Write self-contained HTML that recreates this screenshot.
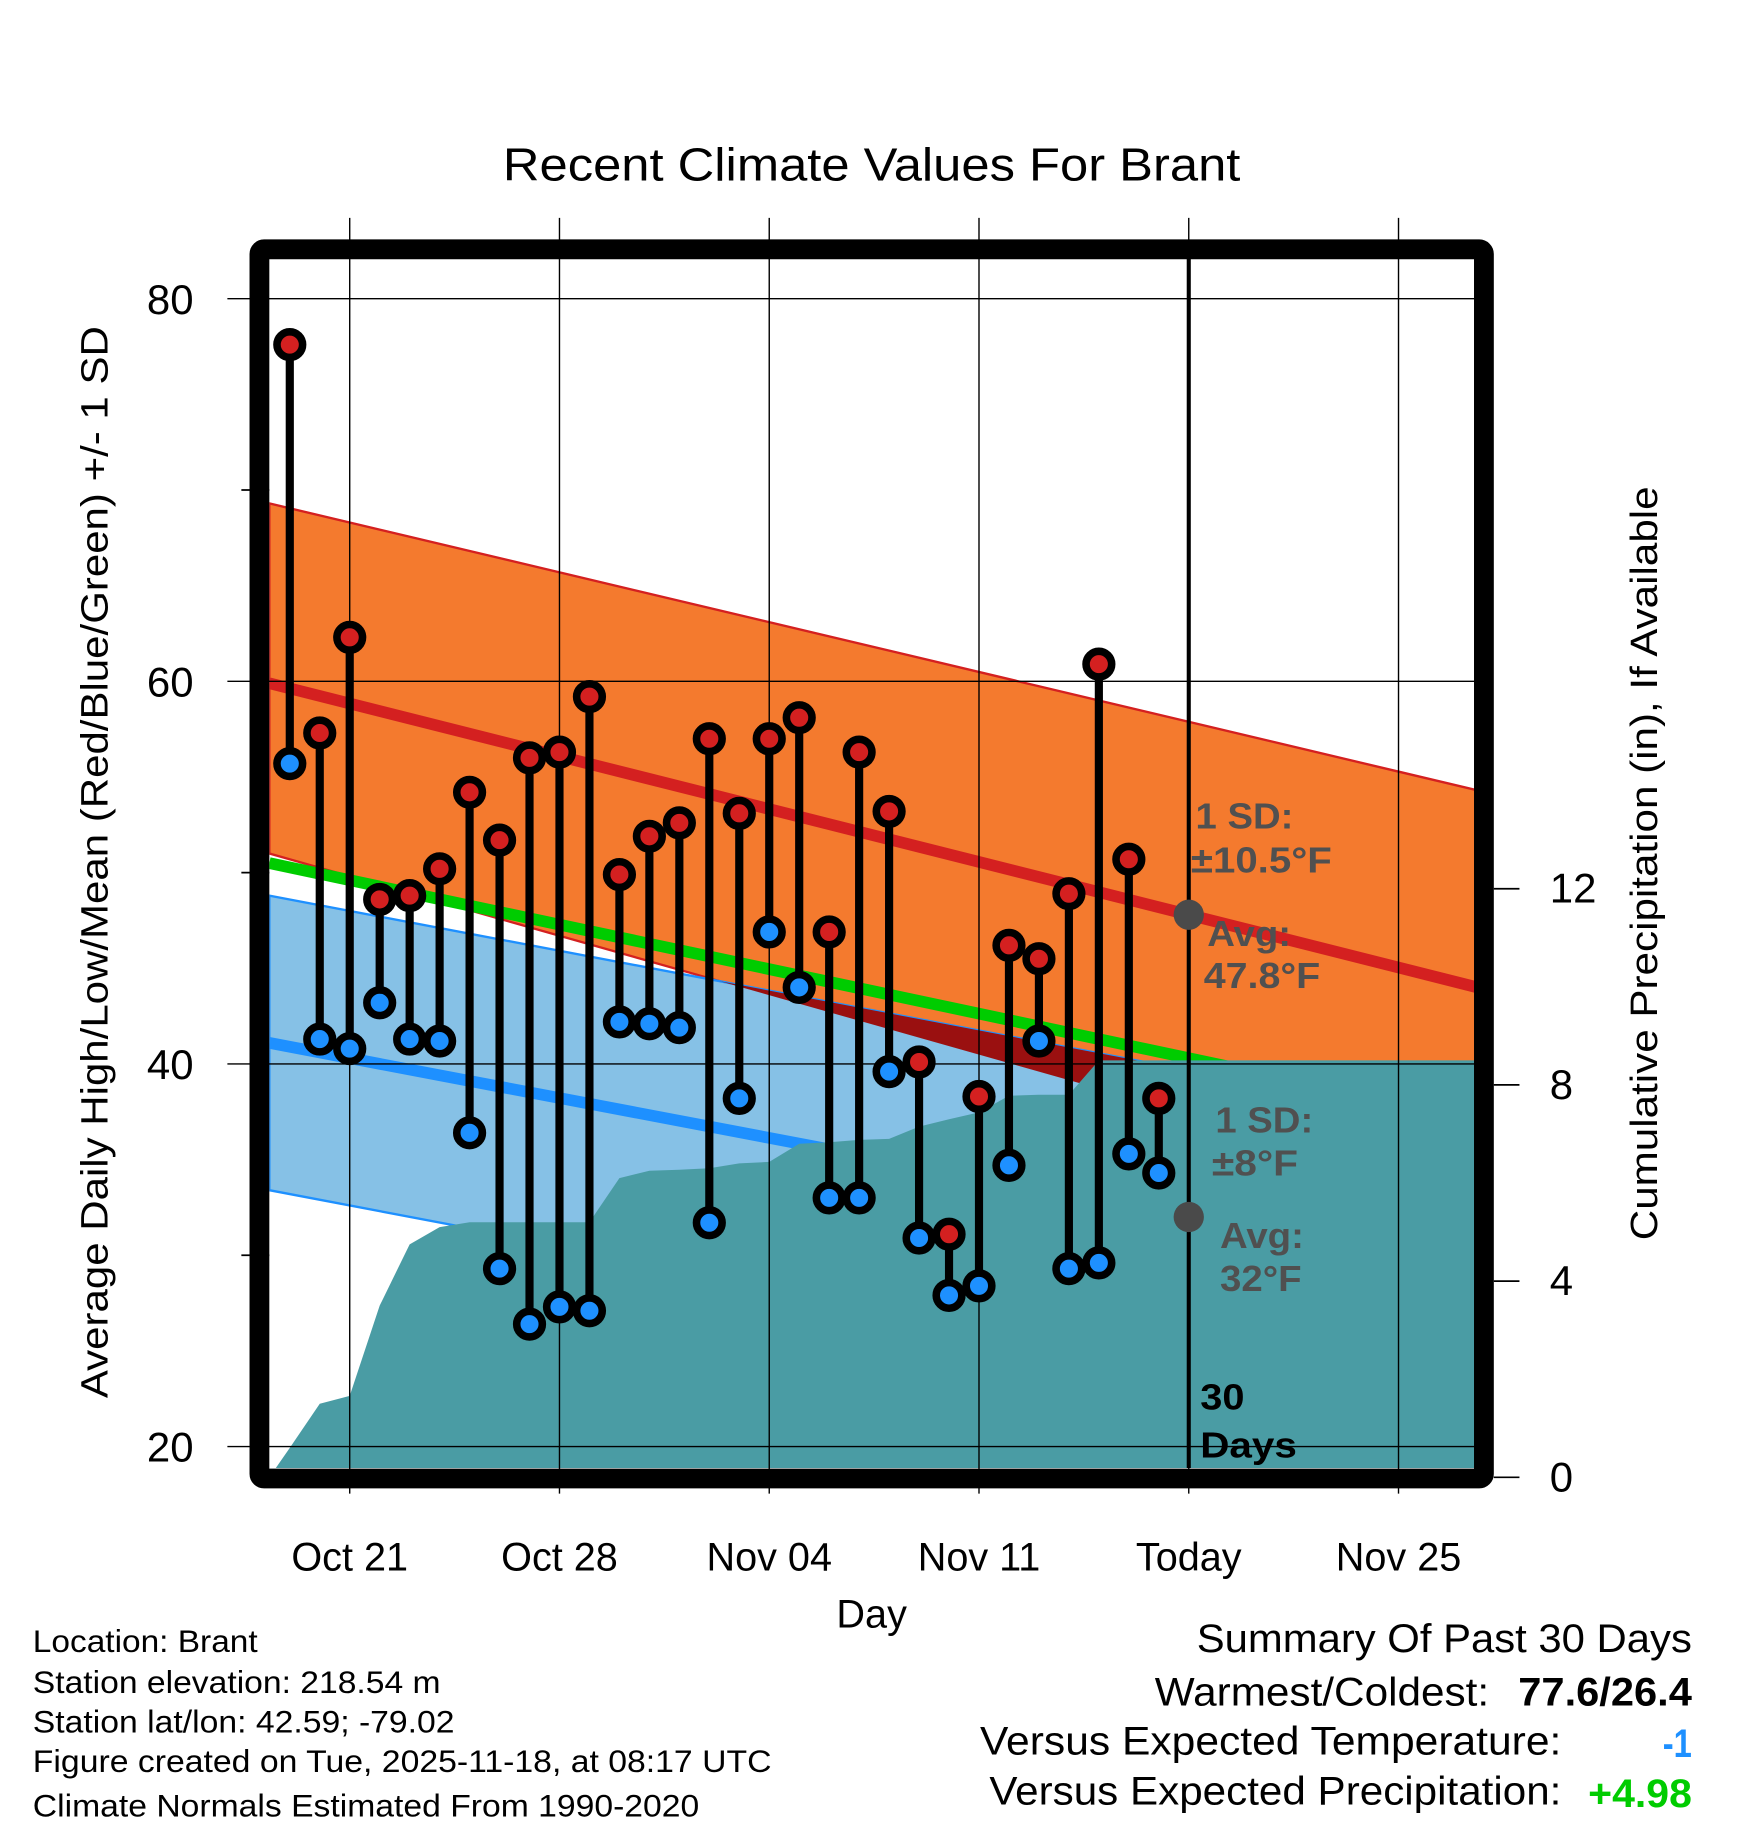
<!DOCTYPE html>
<html><head><meta charset="utf-8"><style>
html,body{margin:0;padding:0;background:#fff;width:1748px;height:1828px;overflow:hidden}
svg{display:block;font-family:"Liberation Sans",Arial,sans-serif}
</style></head><body>
<svg id="chart" width="1748" height="1828" viewBox="0 0 1500 1569" xmlns="http://www.w3.org/2000/svg">
<defs><clipPath id="plotclip"><rect x="231" y="222" width="1037" height="1038"/></clipPath></defs>
<g id="layer" clip-path="url(#plotclip)"></g>
<g id="over"></g>
<text x="748" y="155" font-size="40" text-anchor="middle" textLength="633" lengthAdjust="spacingAndGlyphs">Recent Climate Values For Brant</text>
<text transform="translate(92,740) rotate(-90)" font-size="33" text-anchor="middle" textLength="920" lengthAdjust="spacingAndGlyphs">Average Daily High/Low/Mean (Red/Blue/Green) +/- 1 SD</text>
<text transform="translate(1422,741) rotate(-90)" font-size="33" text-anchor="middle" textLength="647" lengthAdjust="spacingAndGlyphs">Cumulative Precipitation (in), If Available</text>
<text x="748" y="1397" font-size="34" text-anchor="middle">Day</text>
<g font-size="27">
<text x="28" y="1418" textLength="193" lengthAdjust="spacingAndGlyphs">Location: Brant</text>
<text x="28" y="1453" textLength="350" lengthAdjust="spacingAndGlyphs">Station elevation: 218.54 m</text>
<text x="28" y="1487" textLength="362" lengthAdjust="spacingAndGlyphs">Station lat/lon: 42.59; -79.02</text>
<text x="28" y="1521" textLength="634" lengthAdjust="spacingAndGlyphs">Figure created on Tue, 2025-11-18, at 08:17 UTC</text>
<text x="28" y="1559" textLength="572" lengthAdjust="spacingAndGlyphs">Climate Normals Estimated From 1990-2020</text>
</g>
<g font-size="34">
<text x="1027" y="1418" textLength="425" lengthAdjust="spacingAndGlyphs">Summary Of Past 30 Days</text>
<text x="991" y="1464" textLength="287" lengthAdjust="spacingAndGlyphs">Warmest/Coldest:</text>
<text x="1303" y="1464" font-weight="bold" textLength="149" lengthAdjust="spacingAndGlyphs">77.6/26.4</text>
<text x="841" y="1506" textLength="499" lengthAdjust="spacingAndGlyphs">Versus Expected Temperature:</text>
<text x="1427" y="1508" font-weight="bold" fill="#1e90ff" textLength="25" lengthAdjust="spacingAndGlyphs">-1</text>
<text x="849" y="1549" textLength="491" lengthAdjust="spacingAndGlyphs">Versus Expected Precipitation:</text>
<text x="1363" y="1551" font-weight="bold" fill="#00cc00" textLength="89" lengthAdjust="spacingAndGlyphs">+4.98</text>
</g>
</svg>
<script>
const days = [-2,-1,0,1,2,3,4,5,6,7,8,9,10,11,12,13,14,15,16,17,18,19,20,21,22,23,24,25,26,27];
const highs = [77.6,57.3,62.3,48.6,48.8,50.2,54.2,51.7,56.0,56.3,59.2,49.9,51.9,52.6,57.0,53.1,57.0,58.1,46.9,56.3,53.2,40.1,31.1,38.3,46.2,45.5,48.9,60.9,50.7,38.2];
const lows = [55.7,41.3,40.8,43.2,41.3,41.2,36.4,29.3,26.4,27.3,27.1,42.2,42.1,41.9,31.7,38.2,46.9,44.0,33.0,33.0,39.6,30.9,27.9,28.4,34.7,41.2,29.3,29.6,35.3,34.3];
const precip = [0.6,1.5,1.66,3.5,4.75,5.1,5.2,5.2,5.2,5.2,5.2,6.1,6.25,6.27,6.3,6.4,6.43,6.8,6.83,6.88,6.9,7.15,7.3,7.44,7.78,7.8,7.8,8.5,8.5,8.5];
const tickDays = [0,7,14,21,28,35];
const tickLabels = ["Oct 21","Oct 28","Nov 04","Nov 11","Today","Nov 25"];
const tempTicks = [80,60,40,20];
const tempMinor = [70,50,30];
const precipTicks = [0,4,8,12];
const normHighEnds = [59.9,44.0];
const highUpperEnds = [69.3,54.3];
const highLowerEnds = [51.0,33.1];
const normMeanEnds = [50.5,37.1];
const normLowEnds = [41.1,29.1];
const sdLow = [7.7];
const todayNorm = [47.8,32.0];

const NS="http://www.w3.org/2000/svg";
const X0=231,X1=1268,Y0=222,Y1=1260;
const x=d=>300+d*25.72;
const y=v=>256.4+(80-v)*16.42;
const yp=p=>1268-p*42.1;
const dL=(X0-300)/25.72, dR=(X1-300)/25.72;
function mk(tag,attrs,parent){const e=document.createElementNS(NS,tag);for(const k in attrs)e.setAttribute(k,attrs[k]);(parent||document.getElementById('layer')).appendChild(e);return e;}
const lin=(ends,d)=>ends[0]+(ends[1]-ends[0])*(d-dL)/(dR-dL);
const L=document.getElementById('layer'),O=document.getElementById('over');
const poly=(f1,f2)=>{let p=[];for(const d of [dL,dR])p.push(x(d)+','+y(f1(d)));for(const d of [dR,dL])p.push(x(d)+','+y(f2(d)));return p.join(' ');};
const hi=d=>lin(normHighEnds,d), lo=d=>lin(normLowEnds,d);
const hu=d=>lin(highUpperEnds,d), hl=d=>lin(highLowerEnds,d);
let e;
e=mk('polygon',{points:poly(hu,hl),fill:'#f47a2e',stroke:'#d42020','stroke-width':2});

e=mk('polygon',{points:poly(d=>lo(d)+sdLow[0],d=>lo(d)-sdLow[0]),fill:'#86c1e6',stroke:'#1e90ff','stroke-width':2});

mk('clipPath',{id:'hiclip'},L);
mk('polygon',{points:poly(hu,hl)},document.getElementById('hiclip'));
e=mk('polygon',{points:poly(d=>lo(d)+sdLow[0],d=>lo(d)-sdLow[0]),fill:'#9a1010','clip-path':'url(#hiclip)'});

e=mk('line',{x1:x(dL),y1:y(hi(dL)),x2:x(dR),y2:y(hi(dR)),stroke:'#d42020','stroke-width':10});

e=mk('line',{x1:x(dL),y1:y(lo(dL)),x2:x(dR),y2:y(lo(dR)),stroke:'#1e90ff','stroke-width':10});

e=mk('line',{x1:x(dL),y1:y(lin(normMeanEnds,dL)),x2:x(dR),y2:y(lin(normMeanEnds,dR)),stroke:'#00cc00','stroke-width':10});

let pts=[X0+','+Y1,X0+','+yp(0)];
days.forEach((d,i)=>pts.push(x(d)+','+yp(precip[i])));
pts.push(X1+','+yp(precip[precip.length-1]),X1+','+Y1);
e=mk('polygon',{points:pts.join(' '),fill:'#4a9ca4'});

tempTicks.forEach(v=>{e=mk('line',{x1:195,x2:X1,y1:y(v),y2:y(v),stroke:'#000','stroke-width':1.2},O);

e=mk('text',{x:166,y:y(v)+13,'font-size':36,'text-anchor':'end'},O);e.textContent=v;
});
tempMinor.forEach(v=>{e=mk('line',{x1:207,x2:X0,y1:y(v),y2:y(v),stroke:'#000','stroke-width':1.5},O);
});
tickDays.forEach((d,i)=>{e=mk('line',{x1:x(d),x2:x(d),y1:187,y2:1282,stroke:'#000','stroke-width':1.2},O);

e=mk('text',{x:x(d),y:1348,'font-size':34,'text-anchor':'middle'},O);e.textContent=tickLabels[i];
});
precipTicks.forEach(p=>{e=mk('line',{x1:1282,x2:1304,y1:yp(p),y2:yp(p),stroke:'#000','stroke-width':1.5},O);

e=mk('text',{x:1330,y:yp(p)+12,'font-size':36},O);e.textContent=p;
});
days.forEach((d,i)=>{e=mk('line',{x1:x(d),x2:x(d),y1:y(highs[i]),y2:y(lows[i]),stroke:'#000','stroke-width':7},O);
});
days.forEach((d,i)=>{
e=mk('circle',{cx:x(d),cy:y(highs[i]),r:11,fill:'#d42020',stroke:'#000','stroke-width':6.5},O);

e=mk('circle',{cx:x(d),cy:y(lows[i]),r:11,fill:'#1e90ff',stroke:'#000','stroke-width':6.5},O);
});
e=mk('line',{x1:x(28),x2:x(28),y1:Y0,y2:Y1,stroke:'#000','stroke-width':3.5},O);

todayNorm.forEach(v=>{e=mk('circle',{cx:x(28),cy:y(v),r:13,fill:'#4a4a4a'},O);
});
const ann=[["1 SD:",1026,711,'#505050',84],["±10.5°F",1022,749,'#505050',121],["Avg:",1036,812,'#505050',72],["47.8°F",1033,848,'#505050',100],["1 SD:",1043,972,'#505050',84],["±8°F",1040,1009,'#505050',74],["Avg:",1047,1071,'#505050',72],["32°F",1047,1108,'#505050',70],["30",1030,1210,'#000',38],["Days",1030,1251,'#000',83]];
ann.forEach(a=>{e=mk('text',{x:a[1],y:a[2],'font-size':31,'font-weight':'bold',fill:a[3],textLength:a[4],lengthAdjust:'spacingAndGlyphs'},O);e.textContent=a[0];
});
e=mk('rect',{x:222.5,y:214,width:1051,height:1055,fill:'none',stroke:'#000','stroke-width':17,rx:4},O);

</script>
</body></html>
